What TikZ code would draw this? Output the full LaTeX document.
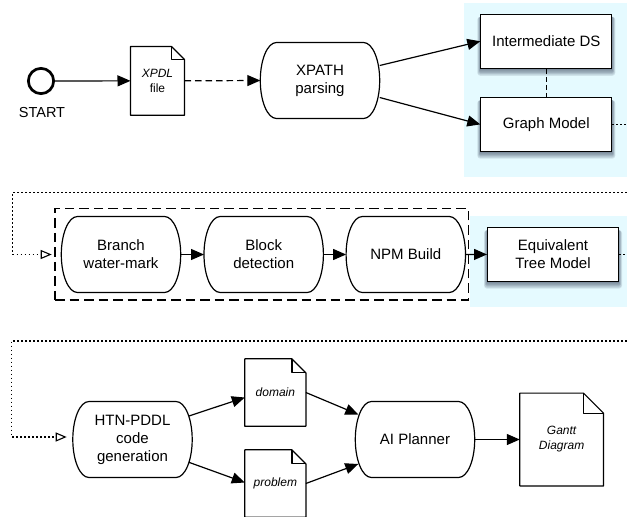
\documentclass[tikz,border=0pt]{standalone}
\usepackage{fontspec}
\setmainfont{Liberation Sans}
\usetikzlibrary{arrows.meta,calc}
\pgfdeclarelayer{bg}
\pgfsetlayers{bg,main}
\definecolor{bluebg}{RGB}{229,250,255}
\definecolor{shadowc}{RGB}{15,25,55}
\newcommand\dgmain{\fontsize{15}{18}\selectfont}
\newcommand\dgdoc{\fontsize{12}{15}\selectfont}
\newcommand\dgstart{\fontsize{14.5}{17}\selectfont}
% outline of a stadium-like process node
\newcommand\stadoutline[1]{%
 \draw[ln] ([xshift=16pt]#1.north west) -- ([xshift=-16pt]#1.north east)
  .. controls ([xshift=-7.2pt]#1.north east) and ($(#1.north east)!0.225!(#1.south east)$) .. (#1.east)
  .. controls ($(#1.south east)!0.225!(#1.north east)$) and ([xshift=-7.2pt]#1.south east) .. ([xshift=-16pt]#1.south east)
  -- ([xshift=16pt]#1.south west)
  .. controls ([xshift=7.2pt]#1.south west) and ($(#1.south west)!0.225!(#1.north west)$) .. (#1.west)
  .. controls ($(#1.north west)!0.225!(#1.south west)$) and ([xshift=7.2pt]#1.north west) .. cycle;}
% outline of a document with folded corner
\newcommand\docoutline[2]{%
 \draw[ln] (#1.south west) -- (#1.north west) -- ([xshift=-#2]#1.north east) -- ([yshift=-#2]#1.north east) -- (#1.south east) -- cycle;
 \draw[ln] ([xshift=-#2]#1.north east) -- ([xshift=-#2,yshift=-#2]#1.north east) -- ([yshift=-#2]#1.north east);}
% soft shadow under a box
\newcommand\boxshade[1]{%
 \foreach \e in {0,1,...,5}{%
  \fill[shadowc, opacity=0.1, rounded corners=0.6*\e pt] ([shift={(-0.6*\e pt,-1.5pt-1.1*\e pt)}]#1.south west) rectangle ([shift={(0.6*\e pt,-3pt)}]#1.north east);}}
\begin{document}
\begin{tikzpicture}[x=1pt,y=-1pt,
  ln/.style={line width=1.2pt, line join=round},
  conn/.style={ln, -{Triangle[length=13pt,width=11pt]}},
  opentip/.style={-{Triangle[open,length=11pt,width=9pt,line width=1.1pt]}},
  dotl/.style={line width=1.1pt, dash pattern=on 1.7pt off 2.3pt},
  stad/.style={minimum width=119pt, minimum height=75.5pt, inner sep=0pt, align=center, font=\dgmain},
  docnode/.style={inner sep=0pt, align=center, font=\dgdoc},
  boxnode/.style={draw, fill=white, line width=1pt, minimum width=131pt, minimum height=54pt, inner sep=0pt, align=center, font=\dgmain},
  grpbox/.style={draw, line width=1.3pt, dash pattern=on 9.5pt off 5pt, inner sep=0pt}]
\useasboundingbox (0,0) rectangle (627,517);

% ---- row 1
\node[circle, draw, line width=2.7pt, minimum size=25.3pt, inner sep=0pt] (st) at (41,81) {};
\node[font=\dgstart] (stl) at (42,113) {START};
\node[docnode, minimum width=53.6pt, minimum height=68.3pt] (xpdl) at (157.5,80.85) {\itshape XPDL\\file};
\docoutline{xpdl}{13pt}
\node[stad] (xpath) at (320,80.5) {XPATH\\parsing};
\stadoutline{xpath}
\node[boxnode] (ids) at (546.3,41.3) {Intermediate DS};
\node[boxnode, minimum height=53.5pt] (gm) at (546.3,124.4) {Graph Model};

\draw[conn] (st) -- (xpdl.west);
\draw[conn, dash pattern=on 6.5pt off 4pt] (xpdl.east) -- (xpath.west);
\draw[conn] ([yshift=15pt]xpath.east) -- (ids.west);
\draw[conn] ([yshift=-17pt]xpath.east) -- (gm.west);
\draw[ln, dash pattern=on 5pt off 3pt] (ids.south) -- (gm.north);
\coordinate (gmo) at (627,124.4);
\draw[dotl] (gm.east) -- (gmo);

% ---- row 2
\node[grpbox, minimum width=413.3pt, minimum height=91.5pt] (grp) at (261.7,254.25) {};
\node[stad] (br) at (121,254.5) {Branch\\water-mark};
\stadoutline{br}
\node[stad] (bl) at (263.7,254.5) {Block\\detection};
\stadoutline{bl}
\node[stad] (npm) at (405.8,254.5) {NPM Build};
\stadoutline{npm}
\node[boxnode, minimum height=53.5pt] (etm) at (553,254.4) {Equivalent\\Tree Model};

\coordinate (r2r) at (627,192.7);
\coordinate (r2l) at (12.7,192.7);
\coordinate (r2t) at (51.7,254.5);
\draw[dotl, opentip] (r2r) -- (r2l) |- (r2t);
\draw[conn] (br) -- (bl);
\draw[conn] (bl) -- (npm);
\draw[conn] (npm) -- (etm);
\coordinate (etmo) at (627,254.4);
\draw[dotl] (etm.east) -- (etmo);

% ---- row 3
\node[stad] (htn) at (132.5,439.5) {HTN-PDDL\\code\\generation};
\stadoutline{htn}
\node[docnode, minimum width=60.7pt, minimum height=67pt] (dom) at (275.35,392.5) {\itshape domain};
\docoutline{dom}{14pt}
\node[docnode, minimum width=60.7pt, minimum height=67pt] (prob) at (275.35,483.5) {\itshape problem};
\docoutline{prob}{14pt}
\node[stad] (ai) at (415,439.5) {AI Planner};
\stadoutline{ai}
\node[docnode, minimum width=83.3pt, minimum height=92.4pt] (gantt) at (561.65,439.5) {\itshape Gantt\\\itshape Diagram};
\docoutline{gantt}{20pt}

\coordinate (r3r) at (627,341);
\coordinate (r3l) at (11.7,341);
\coordinate (r3t) at (66.7,437);
\draw[dotl, opentip] (r3r) -- (r3l) |- (r3t);
\draw[conn] ([xshift=-3.3pt,yshift=23.5pt]htn.east) -- ([yshift=-5pt]dom.west);
\draw[conn] ([xshift=-3.3pt,yshift=-22.8pt]htn.east) -- ([yshift=1pt]prob.west);
\draw[conn] (dom.east) -- ([xshift=3pt,yshift=25pt]ai.west);
\draw[conn] (prob.east) -- ([xshift=3pt,yshift=-24.5pt]ai.west);
\draw[conn] (ai) -- (gantt);

% ---- background layer
\begin{pgfonlayer}{bg}
\fill[white] (0,0) rectangle (627,517);
\fill[bluebg] (464,3) rectangle (627,177);
\fill[bluebg] (470,216) rectangle (627,307);
\boxshade{ids}
\boxshade{gm}
\boxshade{etm}
\end{pgfonlayer}
\end{tikzpicture}
\end{document}
